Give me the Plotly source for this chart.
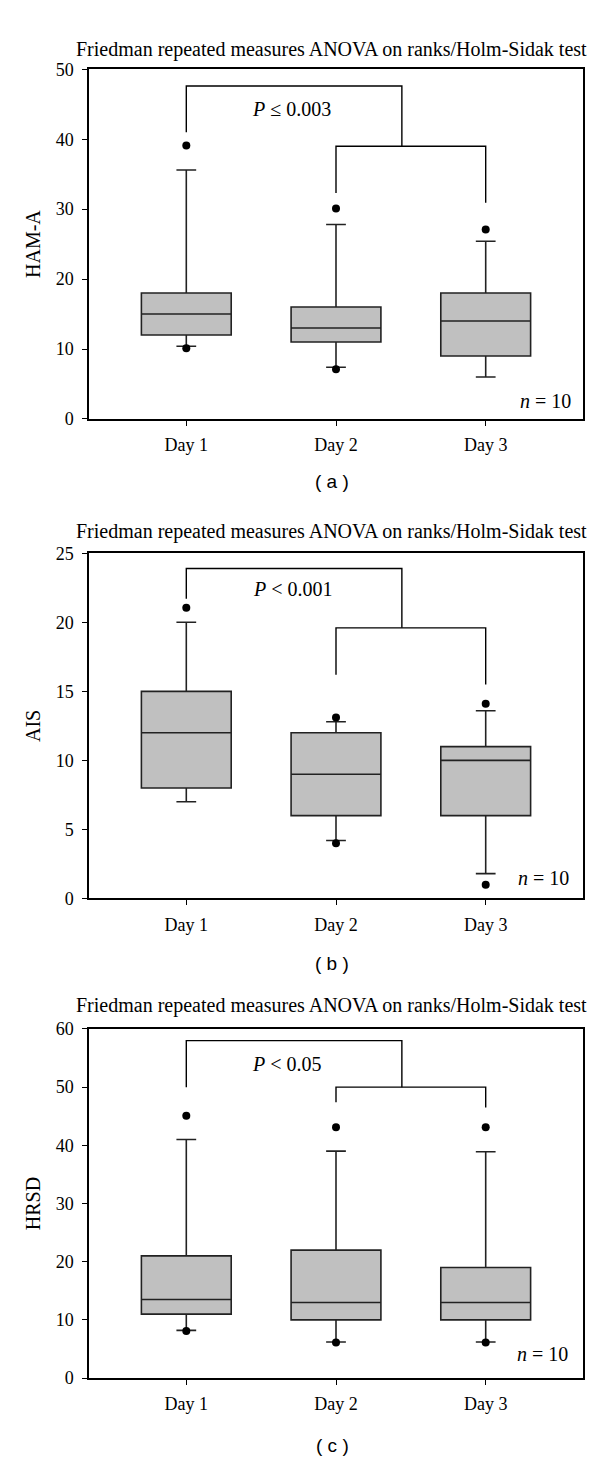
import plotly.graph_objects as go

# ---------------- data ----------------
categories = ["Day 1", "Day 2", "Day 3"]
cat_pos = [0, 1, 2]

# Panel (a) HAM-A
a_q1 = [12, 11, 9]
a_median = [15, 13, 14]
a_q3 = [18, 16, 18]
a_low = [10.4, 7.4, 6]
a_high = [35.6, 27.8, 25.4]
a_out_x = [0, 0, 1, 1, 2]
a_out_y = [39.1, 10.1, 30.1, 7.1, 27.1]

# Panel (b) AIS
b_q1 = [8, 6, 6]
b_median = [12, 9, 10]
b_q3 = [15, 12, 11]
b_low = [7, 4.2, 1.8]
b_high = [20, 12.8, 13.6]
b_out_x = [0, 1, 1, 2, 2]
b_out_y = [21.05, 13.1, 4.0, 14.1, 1.0]

# Panel (c) HRSD
c_q1 = [11, 10, 10]
c_median = [13.5, 13, 13]
c_q3 = [21, 22, 19]
c_low = [8.2, 6.2, 6.2]
c_high = [41, 39, 38.9]
c_out_x = [0, 0, 1, 1, 2, 2]
c_out_y = [45.1, 8.1, 43.1, 6.1, 43.1, 6.1]

# significance brackets: (left-leg bottom, top, connector x, second bracket y, day2 leg bottom, day3 leg bottom)
a_bracket = [41.0, 47.6, 1.44, 39.0, 32.3, 30.9]
b_bracket = [21.7, 23.9, 1.44, 19.6, 16.2, 15.5]
c_bracket = [50.0, 58.0, 1.44, 50.0, 47.4, 46.5]

p_texts = ["<i>P</i> ≤ 0.003", "<i>P</i> < 0.001", "<i>P</i> < 0.05"]
y_titles = ["HAM-A", "AIS", "HRSD"]
y_ranges = [[0, 50], [0, 25], [0, 60]]
y_ticks = [[0, 10, 20, 30, 40, 50], [0, 5, 10, 15, 20, 25], [0, 10, 20, 30, 40, 50, 60]]
panel_labels = ["( a )", "( b )", "( c )"]
title_text = "Friedman repeated measures ANOVA on ranks/Holm-Sidak test"

panels = [
    dict(q1=a_q1, med=a_median, q3=a_q3, lo=a_low, hi=a_high, ox=a_out_x, oy=a_out_y, br=a_bracket),
    dict(q1=b_q1, med=b_median, q3=b_q3, lo=b_low, hi=b_high, ox=b_out_x, oy=b_out_y, br=b_bracket),
    dict(q1=c_q1, med=c_median, q3=c_q3, lo=c_low, hi=c_high, ox=c_out_x, oy=c_out_y, br=c_bracket),
]

# ---------------- layout geometry (pixels) ----------------
W, H = 600, 1460
x_left, x_right = 81, 575
panel_px = [(52, 406.5), (542.7, 892.7), (1025, 1379)]
title_px = [32, 521, 1001]
plabel_px = [470, 959, 1447]
p_pos = [(0.70, 44.3), (0.71, 22.4), (0.67, 54.0)]
n_pos = [2.58, 2.57, 2.56]
n_y = [2.6, 1.5, 4.1]

SERIF = "Liberation Serif"
fig = go.Figure()
annotations = []

for i, p in enumerate(panels):
    sfx = "" if i == 0 else str(i + 1)
    xa, ya = "x" + sfx, "y" + sfx
    fig.add_trace(go.Box(
        x=cat_pos, q1=p["q1"], median=p["med"], q3=p["q3"],
        lowerfence=p["lo"], upperfence=p["hi"],
        width=0.6, whiskerwidth=0.22,
        fillcolor="#c0c0c0", line=dict(color="#222222", width=1.6),
        boxpoints=False, showlegend=False, hoverinfo="skip",
        xaxis=xa, yaxis=ya,
    ))
    fig.add_trace(go.Scatter(
        x=p["ox"], y=p["oy"], mode="markers",
        marker=dict(color="black", size=8),
        showlegend=False, xaxis=xa, yaxis=ya, cliponaxis=False,
    ))
    lb, top, cx, sy, l2, r2 = p["br"]
    fig.add_trace(go.Scatter(
        x=[0, 0, cx, cx, None, 1, 1, 2, 2],
        y=[lb, top, top, sy, None, l2, sy, sy, r2],
        mode="lines", line=dict(color="black", width=1.4),
        showlegend=False, xaxis=xa, yaxis=ya,
    ))

    top_px, bot_px = panel_px[i]
    fig.layout["xaxis" + sfx] = dict(
        domain=[x_left / W, x_right / W], anchor=ya, range=[-0.65, 2.65],
        tickvals=cat_pos, ticktext=categories,
        showline=True, linecolor="black", linewidth=1.5, mirror=True,
        ticks="outside", ticklen=5, tickwidth=1.4, tickcolor="black",
        showgrid=False, zeroline=False, ticklabelstandoff=4,
        tickfont=dict(family=SERIF, size=18, color="black"),
    )
    fig.layout["yaxis" + sfx] = dict(
        domain=[1 - bot_px / H, 1 - top_px / H], anchor=xa,
        range=y_ranges[i], tickvals=y_ticks[i],
        showline=True, linecolor="black", linewidth=1.5, mirror=True,
        ticks="outside", ticklen=5, tickwidth=1.4, tickcolor="black",
        showgrid=False, zeroline=False, ticklabelstandoff=5,
        tickfont=dict(family=SERIF, size=18, color="black"),
        title=dict(text=y_titles[i], font=dict(family=SERIF, size=20, color="black"), standoff=10),
    )

    annotations.append(dict(
        text=title_text, xref="paper", yref="paper",
        x=323 / W, y=1 - title_px[i] / H, xanchor="center", yanchor="middle",
        showarrow=False, font=dict(family=SERIF, size=20, color="black"),
    ))
    annotations.append(dict(
        text=p_texts[i], xref=xa, yref=ya, x=p_pos[i][0], y=p_pos[i][1],
        xanchor="center", yanchor="middle", showarrow=False,
        font=dict(family=SERIF, size=20, color="black"),
    ))
    annotations.append(dict(
        text="<i>n</i> = 10", xref=xa, yref=ya, x=n_pos[i], y=n_y[i],
        xanchor="right", yanchor="middle", showarrow=False,
        font=dict(family=SERIF, size=20, color="black"),
    ))
    annotations.append(dict(
        text=panel_labels[i], xref="paper", yref="paper",
        x=324 / W, y=1 - plabel_px[i] / H, xanchor="center", yanchor="middle",
        showarrow=False, font=dict(family="Liberation Sans", size=19, color="black"),
    ))

fig.update_layout(
    width=W, height=H, margin=dict(l=0, r=0, t=0, b=0),
    paper_bgcolor="white", plot_bgcolor="white",
    annotations=annotations, showlegend=False,
)

fig.write_html("out.html")
